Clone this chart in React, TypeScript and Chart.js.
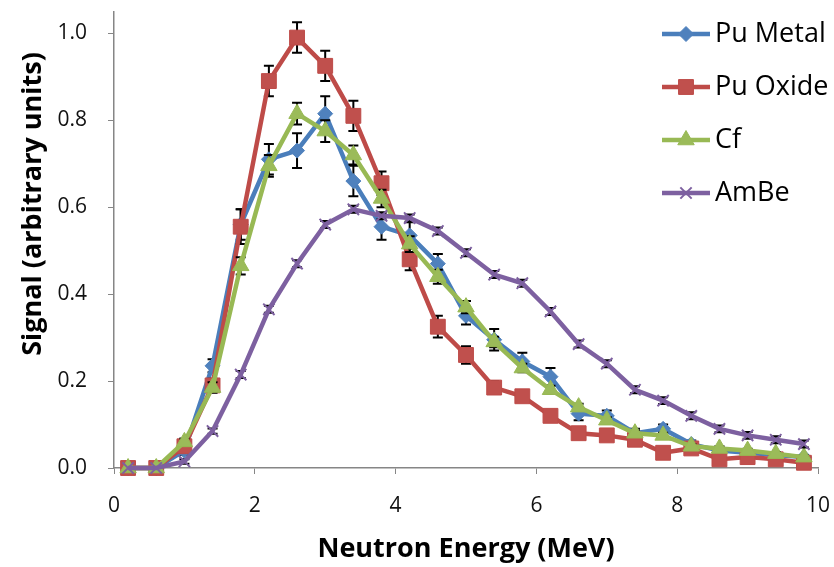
import React, { useEffect, useRef } from 'react';
import { Chart, registerables } from 'chart.js';
import { drawPoint } from 'chart.js/helpers';

Chart.register(...registerables);

const energies = [0.2, 0.6, 1.0, 1.4, 1.8, 2.2, 2.6, 3.0, 3.4, 3.8, 4.2, 4.6, 5.0, 5.4, 5.8, 6.2, 6.6, 7.0, 7.4, 7.8, 8.2, 8.6, 9.0, 9.4, 9.8];

const puMetal = [0, 0, 0.04, 0.235, 0.56, 0.71, 0.73, 0.815, 0.66, 0.555, 0.535, 0.47, 0.35, 0.295, 0.245, 0.21, 0.125, 0.12, 0.08, 0.09, 0.055, 0.04, 0.035, 0.03, 0.025];
const puMetalErr = [0, 0, 0.01, 0.015, 0.035, 0.035, 0.04, 0.04, 0.035, 0.03, 0.03, 0.022, 0.02, 0.025, 0.02, 0.02, 0.015, 0.012, 0.01, 0.01, 0.008, 0.007, 0.006, 0.005, 0.005];

const puOxide = [0, 0, 0.05, 0.19, 0.555, 0.89, 0.99, 0.925, 0.81, 0.655, 0.48, 0.325, 0.26, 0.185, 0.165, 0.12, 0.08, 0.075, 0.065, 0.035, 0.045, 0.02, 0.025, 0.02, 0.012];
const puOxideErr = [0, 0, 0.01, 0.015, 0.04, 0.035, 0.035, 0.035, 0.035, 0.027, 0.025, 0.025, 0.02, 0.015, 0.012, 0.01, 0.01, 0.008, 0.008, 0.006, 0.006, 0.005, 0.005, 0.004, 0.004];

const cf = [0, 0, 0.06, 0.185, 0.465, 0.695, 0.815, 0.775, 0.72, 0.62, 0.515, 0.44, 0.37, 0.29, 0.23, 0.18, 0.14, 0.11, 0.08, 0.075, 0.05, 0.045, 0.04, 0.033, 0.025];
const cfErr = [0, 0, 0.008, 0.012, 0.02, 0.025, 0.025, 0.025, 0.022, 0.02, 0.018, 0.016, 0.014, 0.012, 0.01, 0.009, 0.008, 0.007, 0.006, 0.006, 0.005, 0.005, 0.004, 0.004, 0.004];

const amBe = [0, 0, 0.015, 0.085, 0.215, 0.365, 0.47, 0.56, 0.595, 0.58, 0.575, 0.545, 0.495, 0.445, 0.425, 0.36, 0.285, 0.24, 0.18, 0.155, 0.12, 0.09, 0.075, 0.065, 0.055];
const amBeErr = [0, 0, 0.005, 0.006, 0.008, 0.008, 0.008, 0.008, 0.008, 0.008, 0.008, 0.008, 0.008, 0.008, 0.008, 0.008, 0.008, 0.008, 0.008, 0.008, 0.008, 0.008, 0.008, 0.008, 0.008];

const seriesNames = ['Pu Metal', 'Pu Oxide', 'Cf', 'AmBe'];
const yTickValues = [0, 0.2, 0.4, 0.6, 0.8, 1.0];
const xTickValues = [0, 2, 4, 6, 8, 10];
const xTitle = 'Neutron Energy (MeV)';
const yTitle = 'Signal (arbitrary units)';

const FONT = "'Open Sans', 'DejaVu Sans', sans-serif";
const AXIS_COLOR = '#868686';

const toPoints = (vals: number[]) => vals.map((v, i) => ({ x: energies[i], y: v }));

const errorBarsPlugin = {
  id: 'errorBars',
  beforeDatasetDraw(chart: any, args: any) {
    const ds = chart.data.datasets[args.index];
    const errs: number[] | undefined = ds.errors;
    if (!errs) return;
    const ys = chart.scales.y;
    const ctx = chart.ctx;
    ctx.save();
    ctx.strokeStyle = '#000';
    ctx.lineWidth = 2;
    args.meta.data.forEach((pt: any, i: number) => {
      const e = errs[i];
      if (!e) return;
      const v = ds.data[i].y;
      const top = ys.getPixelForValue(v + e);
      const bot = ys.getPixelForValue(v - e);
      ctx.beginPath();
      ctx.moveTo(pt.x, top);
      ctx.lineTo(pt.x, bot);
      ctx.moveTo(pt.x - 5, top);
      ctx.lineTo(pt.x + 5, top);
      ctx.moveTo(pt.x - 5, bot);
      ctx.lineTo(pt.x + 5, bot);
      ctx.stroke();
    });
    ctx.restore();
  },
};

const decorPlugin = {
  id: 'decor',
  afterDraw(chart: any) {
    const ctx = chart.ctx;
    const area = chart.chartArea;
    ctx.save();
    ctx.fillStyle = '#000';
    ctx.font = `bold 27px ${FONT}`;
    ctx.textAlign = 'center';
    ctx.textBaseline = 'alphabetic';
    ctx.fillText(xTitle, (area.left + area.right) / 2, 557);
    ctx.save();
    ctx.translate(33, 204);
    ctx.rotate(-Math.PI / 2);
    ctx.textBaseline = 'middle';
    ctx.fillText(yTitle, 0, 0);
    ctx.restore();

    const rows = [34, 87, 140, 193];
    chart.data.datasets.forEach((ds: any, i: number) => {
      const y = rows[i];
      ctx.strokeStyle = ds.borderColor;
      ctx.lineWidth = ds.borderWidth;
      ctx.beginPath();
      ctx.moveTo(662, y);
      ctx.lineTo(710, y);
      ctx.stroke();
      ctx.fillStyle = ds.pointBackgroundColor;
      ctx.strokeStyle = ds.pointBorderColor;
      ctx.lineWidth = ds.pointBorderWidth;
      drawPoint(ctx, { pointStyle: ds.pointStyle, radius: ds.pointRadius, borderWidth: ds.pointBorderWidth, rotation: 0 }, 686, y);
      ctx.fillStyle = '#000';
      ctx.font = `27px ${FONT}`;
      ctx.textAlign = 'left';
      ctx.textBaseline = 'middle';
      ctx.fillText(ds.label, 715, y);
    });
    ctx.restore();
  },
};

export default function App() {
  const canvasRef = useRef<HTMLCanvasElement | null>(null);

  useEffect(() => {
    document.body.style.margin = '0';
    const canvas = canvasRef.current;
    if (!canvas) return;
    const common = { showLine: true, tension: 0, clip: false as any, borderWidth: 4.5 };
    const chart = new Chart(canvas, {
      type: 'scatter',
      data: {
        datasets: [
          {
            ...common,
            label: seriesNames[0],
            data: toPoints(puMetal),
            errors: puMetalErr,
            borderColor: '#4A7EBB',
            pointBackgroundColor: '#4F81BD',
            pointBorderColor: '#4F81BD',
            pointBorderWidth: 1,
            pointStyle: 'rectRot',
            pointRadius: 7.5,
            order: 4,
          } as any,
          {
            ...common,
            label: seriesNames[1],
            data: toPoints(puOxide),
            errors: puOxideErr,
            borderColor: '#BE4B48',
            pointBackgroundColor: '#C0504D',
            pointBorderColor: '#BE4B48',
            pointBorderWidth: 1,
            pointStyle: 'rect',
            pointRadius: 10.5,
            order: 3,
          } as any,
          {
            ...common,
            label: seriesNames[2],
            data: toPoints(cf),
            errors: cfErr,
            borderColor: '#98B954',
            pointBackgroundColor: '#9BBB59',
            pointBorderColor: '#98B954',
            pointBorderWidth: 1,
            pointStyle: 'triangle',
            pointRadius: 9.5,
            order: 2,
          } as any,
          {
            ...common,
            label: seriesNames[3],
            data: toPoints(amBe),
            errors: amBeErr,
            borderColor: '#7D60A0',
            pointBackgroundColor: '#7D60A0',
            pointBorderColor: '#7D60A0',
            pointBorderWidth: 2,
            pointStyle: 'crossRot',
            pointRadius: 8,
            order: 1,
          } as any,
        ],
      },
      options: {
        responsive: false,
        animation: false,
        layout: { padding: { top: 8, right: 16, left: 0, bottom: 0 } },
        plugins: { legend: { display: false }, tooltip: { enabled: false } },
        scales: {
          x: {
            type: 'linear',
            min: 0,
            max: 10,
            ticks: { padding: 19, color: '#111', font: { family: FONT, size: 21 } },
            afterBuildTicks: (s: any) => {
              s.ticks = xTickValues.map((v) => ({ value: v }));
            },
            grid: { drawOnChartArea: false, drawTicks: true, tickLength: 6, color: AXIS_COLOR },
            border: { display: true, color: AXIS_COLOR, width: 1.5 },
            afterFit: (s: any) => {
              s.height = 99;
              s.paddingLeft = 0;
              s.paddingRight = 0;
            },
          },
          y: {
            type: 'linear',
            min: 0,
            max: 1.05,
            ticks: {
              padding: 21,
              color: '#111',
              font: { family: FONT, size: 21 },
              callback: (v: any) => Number(v).toFixed(1),
            },
            afterBuildTicks: (s: any) => {
              s.ticks = yTickValues.map((v) => ({ value: v }));
            },
            grid: { drawOnChartArea: false, drawTicks: true, tickLength: 6, color: AXIS_COLOR },
            border: { display: true, color: AXIS_COLOR, width: 1.5 },
            afterFit: (s: any) => {
              s.width = 114;
              s.paddingTop = 0;
              s.paddingBottom = 0;
            },
          },
        },
      },
      plugins: [errorBarsPlugin, decorPlugin],
    });
    return () => chart.destroy();
  }, []);

  return (
    <div style={{ position: 'absolute', left: 0, top: 0, width: 834, height: 567, background: '#fff' }}>
      <canvas ref={canvasRef} width={834} height={567} />
    </div>
  );
}
